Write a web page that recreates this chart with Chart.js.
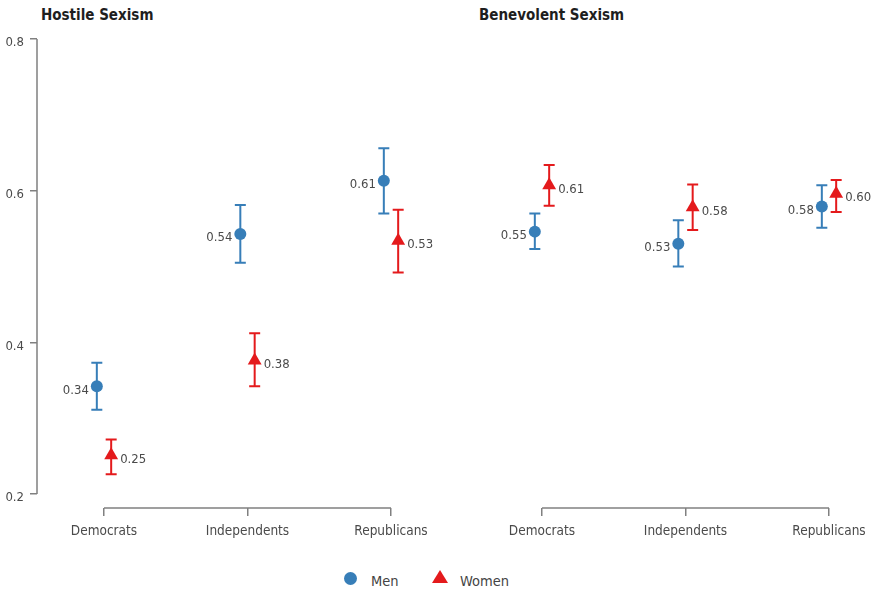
<!DOCTYPE html>
<html>
<head>
<meta charset="utf-8">
<script src="https://cdn.jsdelivr.net/npm/chart.js@4.4.1/dist/chart.umd.min.js"></script>
<style>
  html, body { margin: 0; padding: 0; background: #fff; }
  body { width: 872px; height: 593px; position: relative; overflow: hidden;
         font-family: 'Liberation Sans Narrow', 'DejaVu Sans Condensed', 'Arial Narrow', sans-serif; }
  .title { position: absolute; top: 6px; font-size: 15px; font-weight: bold; color: #1e1e1e; }
  #c1 { position: absolute; left: 0; top: 0; }
  #c2 { position: absolute; left: 434px; top: 0; }
  .leg { position: absolute; font-size: 14.5px; color: #444; }
  .dot { position: absolute; width: 13px; height: 13px; border-radius: 50%; background: #377EB8; }
  .tri { position: absolute; width: 0; height: 0; border-left: 8px solid transparent;
         border-right: 8px solid transparent; border-bottom: 13px solid #E41A1C; }
</style>
</head>
<body>
<div class="title" style="left:41px">Hostile Sexism</div>
<div class="title" style="left:479px">Benevolent Sexism</div>
<canvas id="c1" width="434" height="548"></canvas>
<canvas id="c2" width="438" height="548"></canvas>
<div class="dot" style="left:344px; top:572px"></div>
<div class="leg" style="left:371px; top:573px">Men</div>
<div class="tri" style="left:432px; top:570px"></div>
<div class="leg" style="left:460px; top:573px">Women</div>
<script>
const categories = ['Democrats', 'Independents', 'Republicans'];
const yTickValues = [0.2, 0.4, 0.6, 0.8];

const hostileMen     = [0.342, 0.543, 0.613];
const hostileMenLo   = [0.311, 0.505, 0.570];
const hostileMenHi   = [0.373, 0.581, 0.656];
const hostileWomen   = [0.251, 0.376, 0.534];
const hostileWomenLo = [0.226, 0.342, 0.492];
const hostileWomenHi = [0.272, 0.412, 0.575];

const benevMen     = [0.546, 0.530, 0.579];
const benevMenLo   = [0.523, 0.500, 0.551];
const benevMenHi   = [0.570, 0.561, 0.607];
const benevWomen   = [0.607, 0.578, 0.596];
const benevWomenLo = [0.580, 0.548, 0.572];
const benevWomenHi = [0.634, 0.608, 0.614];

const BLUE = '#377EB8', RED = '#E41A1C', AXIS = '#808080', TXT = '#4a4a4a';
const FONT = "'Liberation Sans Narrow', 'DejaVu Sans Condensed', 'Arial Narrow', sans-serif";
const DODGE = 0.05;

function pts(vals, off) { return vals.map((v, i) => ({ x: i + off, y: v })); }

const errPlugin = {
  id: 'err',
  beforeDatasetsDraw(chart) {
    const { ctx, scales: { x, y } } = chart;
    chart.data.datasets.forEach(ds => {
      ctx.save();
      ctx.strokeStyle = ds.borderColor;
      ctx.lineWidth = 2;
      ds.data.forEach((p, i) => {
        const px = x.getPixelForValue(p.x);
        const lo = y.getPixelForValue(ds.errLo[i]);
        const hi = y.getPixelForValue(ds.errHi[i]);
        ctx.beginPath();
        ctx.moveTo(px, lo); ctx.lineTo(px, hi);
        ctx.moveTo(px - 5.5, lo); ctx.lineTo(px + 5.5, lo);
        ctx.moveTo(px - 5.5, hi); ctx.lineTo(px + 5.5, hi);
        ctx.stroke();
      });
      ctx.restore();
    });
  },
  afterDatasetsDraw(chart) {
    const { ctx, scales: { x, y } } = chart;
    ctx.save();
    ctx.font = '13px ' + FONT;
    ctx.fillStyle = TXT;
    ctx.textBaseline = 'middle';
    chart.data.datasets.forEach(ds => {
      ds.data.forEach(p => {
        const px = x.getPixelForValue(p.x);
        const py = y.getPixelForValue(p.y);
        const t = p.y.toFixed(2);
        if (ds.labelSide === 'left') { ctx.textAlign = 'right'; ctx.fillText(t, px - 8, py + 4); }
        else { ctx.textAlign = 'left'; ctx.fillText(t, px + 9, py + 4); }
      });
    });
    ctx.restore();
  },
  beforeDraw(chart) {
    const { ctx, chartArea, scales: { x, y } } = chart;
    ctx.save();
    ctx.strokeStyle = AXIS;
    ctx.lineWidth = 1.5;
    ctx.beginPath();
    if (chart.options.showY) {
      ctx.moveTo(chartArea.left, y.getPixelForValue(0.2));
      ctx.lineTo(chartArea.left, y.getPixelForValue(0.8));
    }
    ctx.moveTo(x.getPixelForValue(0), chartArea.bottom);
    ctx.lineTo(x.getPixelForValue(2), chartArea.bottom);
    ctx.stroke();
    ctx.restore();
  }
};

function makeChart(id, men, menLo, menHi, women, womenLo, womenHi, showY, xmin, xmax) {
  return new Chart(document.getElementById(id), {
    type: 'scatter',
    data: {
      datasets: [
        { label: 'Men', data: pts(men, -DODGE), errLo: menLo, errHi: menHi, labelSide: 'left',
          backgroundColor: BLUE, borderColor: BLUE, pointStyle: 'circle', pointRadius: 6, borderWidth: 0, clip: false },
        { label: 'Women', data: pts(women, DODGE), errLo: womenLo, errHi: womenHi, labelSide: 'right',
          backgroundColor: RED, borderColor: RED, pointStyle: 'triangle', pointRadius: 8, borderWidth: 0, clip: false }
      ]
    },
    options: {
      showY: showY,
      responsive: false,
      animation: false,
      layout: { autoPadding: false, padding: { top: 39, left: 0, right: 0, bottom: 0 } },
      plugins: { legend: { display: false }, tooltip: { enabled: false } },
      scales: {
        x: {
          type: 'linear', min: xmin, max: xmax,
          afterBuildTicks: s => { s.ticks = [0, 1, 2].map(v => ({ value: v })); },
          afterFit: s => { s.height = 40; s.paddingLeft = 0; s.paddingRight = 0; },
          ticks: { callback: v => categories[v], color: TXT, padding: 7, maxRotation: 0, font: { family: FONT, size: 13.5 } },
          grid: { drawOnChartArea: false, drawTicks: true, tickLength: 8, color: AXIS, lineWidth: 1.5 },
          border: { display: false }
        },
        y: {
          display: showY,
          min: 0.2 - 14 / 760, max: 0.8,
          afterBuildTicks: s => { s.ticks = yTickValues.map(v => ({ value: v })); },
          afterFit: s => { s.width = showY ? 37 : 0; s.paddingTop = 0; s.paddingBottom = 0; },
          ticks: { callback: v => v.toFixed(1), color: TXT, padding: 6, labelOffset: 4, font: { family: FONT, size: 13 } },
          grid: { drawOnChartArea: false, drawTicks: true, tickLength: 7, color: AXIS, lineWidth: 1.5 },
          border: { display: false }
        }
      }
    },
    plugins: [errPlugin]
  });
}

makeChart('c1', hostileMen, hostileMenLo, hostileMenHi, hostileWomen, hostileWomenLo, hostileWomenHi,
          true, -(104 - 37) / 143.5, 2 + (434 - 391) / 143.5);
makeChart('c2', benevMen, benevMenLo, benevMenHi, benevWomen, benevWomenLo, benevWomenHi,
          false, -(542 - 434) / 143.5, 2 + (872 - 829) / 143.5);
</script>
</body>
</html>
